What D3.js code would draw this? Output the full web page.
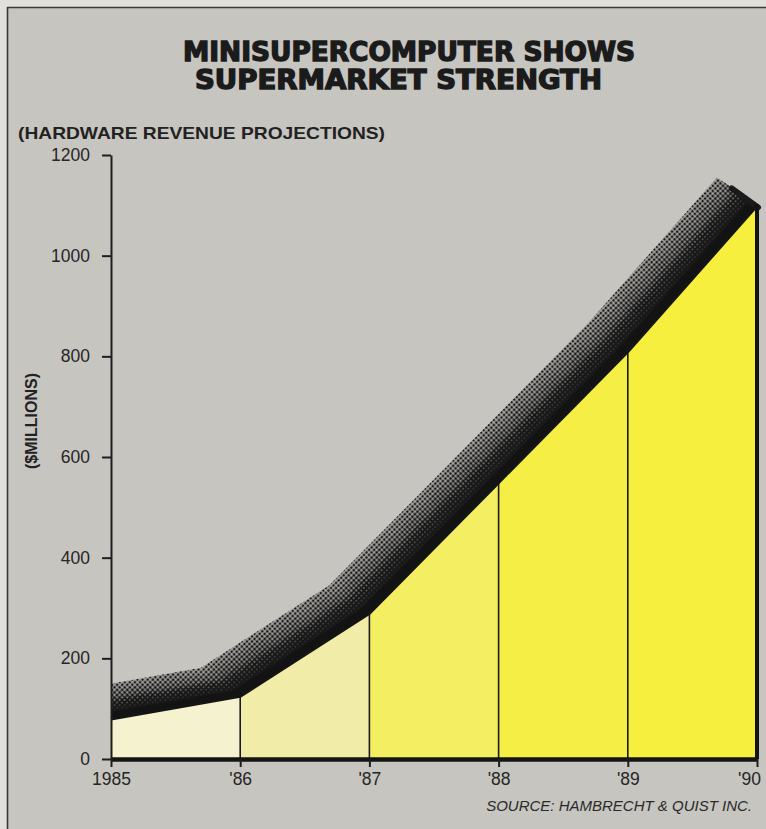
<!DOCTYPE html>
<html>
<head>
<meta charset="utf-8">
<script src="https://cdn.jsdelivr.net/npm/d3@7"></script>
<style>
  html, body { margin: 0; padding: 0; background: #e2e0db; }
  svg { display: block; }
</style>
</head>
<body>
<script>
// Hardware revenue projections, $ millions
const years = [1985, 1986, 1987, 1988, 1989, 1990];
const revenue = [80, 125, 290, 550, 810, 1100];
const yearLabels = ["1985", "'86", "'87", "'88", "'89", "'90"];
const yTicks = [0, 200, 400, 600, 800, 1000, 1200];
const bandFills = ["#f5f2cf", "#f1eca8", "#f4ee62", "#f5ee44", "#f6ef3e"];

const W = 766, H = 829;
const svg = d3.select("body").append("svg").attr("width", W).attr("height", H);
const defs = svg.append("defs");

// page and framed panel
svg.append("rect").attr("width", W).attr("height", H).attr("fill", "#e2e0db");
svg.append("rect").attr("x", 7).attr("y", 7).attr("width", W - 7).attr("height", H - 7).attr("fill", "#c7c5c0");
svg.append("line").attr("x1", 7.5).attr("x2", 7.5).attr("y1", 7).attr("y2", H).attr("stroke", "#3a3a3a").attr("stroke-width", 1.6);
svg.append("line").attr("x1", 7).attr("x2", W).attr("y1", 7.5).attr("y2", 7.5).attr("stroke", "#3a3a3a").attr("stroke-width", 1.6);

const x = d3.scaleLinear().domain([1985, 1990]).range([111, 757]);
const y = d3.scaleLinear().domain([0, 1200]).range([759, 155]);

const pts = years.map((yr, i) => [x(yr), y(revenue[i])]);
const line = d3.line();

// halftone screens of decreasing dot size
const levels = 12;
for (let j = 0; j < levels; j++) {
  const r = 2.2 - (j / (levels - 1)) * 1.0;
  const p = defs.append("pattern")
    .attr("id", "ht" + j)
    .attr("patternUnits", "userSpaceOnUse")
    .attr("width", 3.6).attr("height", 3.6)
    .attr("patternTransform", "rotate(45)");
  p.append("rect").attr("width", 3.6).attr("height", 3.6).attr("fill", "#a3a19d");
  p.append("circle").attr("cx", 1.8).attr("cy", 1.8).attr("r", r).attr("fill", "#181818");
}

defs.append("clipPath").attr("id", "plotClip")
  .append("rect").attr("x", x(1985) + 1).attr("y", 0).attr("width", W).attr("height", y(0));

// extruded ribbon above the curve
const extrude = [-39, -27];
const ribbon = svg.append("g").attr("clip-path", "url(#plotClip)");
const N = 44;
for (let k = N; k >= 0; k--) {
  const t = k / N;
  const shifted = pts.map(([px, py]) => [px + extrude[0] * t, py + extrude[1] * t]);
  let stroke;
  if (t < 0.17) stroke = "#141414";
  else {
    const j = Math.min(levels - 1, Math.round(((t - 0.17) / 0.83) * (levels - 1)));
    stroke = "url(#ht" + j + ")";
  }
  ribbon.append("path")
    .attr("d", line(shifted))
    .attr("fill", "none")
    .attr("stroke", stroke)
    .attr("stroke-width", 2.6)
    .attr("stroke-linejoin", "round");
}
// dark end face of the ribbon
const endPt = pts[pts.length - 1];
ribbon.append("path")
  .attr("d", line([[endPt[0] + 1, endPt[1] + 2], [endPt[0] + extrude[0] * 0.7 + 2, endPt[1] + extrude[1] * 0.7 + 2]]))
  .attr("stroke", "#1a1a1a").attr("stroke-width", 6).attr("stroke-linecap", "round");

// yellow bands between years
const area = d3.area().x(d => d[0]).y0(y(0)).y1(d => d[1]);
for (let i = 0; i < pts.length - 1; i++) {
  svg.append("path").attr("d", area([pts[i], pts[i + 1]])).attr("fill", bandFills[i]);
}

// year dividers
for (let i = 1; i < pts.length - 1; i++) {
  svg.append("line")
    .attr("x1", pts[i][0]).attr("x2", pts[i][0])
    .attr("y1", y(0)).attr("y2", pts[i][1])
    .attr("stroke", "#1a1a1a").attr("stroke-width", 1.6);
}

// curve outline and right edge
svg.append("path").attr("d", line(pts)).attr("fill", "none")
  .attr("stroke", "#141414").attr("stroke-width", 3.5).attr("stroke-linejoin", "round");
svg.append("line")
  .attr("x1", endPt[0]).attr("x2", endPt[0]).attr("y1", endPt[1] - 1).attr("y2", y(0))
  .attr("stroke", "#141414").attr("stroke-width", 4);

const labelFont = "'Liberation Sans', Arial, Helvetica, sans-serif";

// y axis
const yAxis = svg.append("g").attr("transform", `translate(${x(1985)},0)`)
  .call(d3.axisLeft(y).tickValues(yTicks).tickSize(9).tickSizeOuter(0).tickPadding(12).tickFormat(d3.format("d")));
yAxis.select(".domain").attr("stroke", "#1e1e1e").attr("stroke-width", 2);
yAxis.selectAll(".tick line").attr("stroke", "#1e1e1e").attr("stroke-width", 2);
yAxis.selectAll(".tick text").attr("font-family", labelFont).attr("font-size", 17.5).attr("fill", "#262626");

// x axis
const xAxis = svg.append("g").attr("transform", `translate(0,${y(0)})`)
  .call(d3.axisBottom(x).tickValues(years).tickSize(8).tickSizeOuter(0).tickPadding(6)
    .tickFormat((d, i) => yearLabels[i]));
xAxis.select(".domain").attr("stroke", "#141414").attr("stroke-width", 4.5);
xAxis.selectAll(".tick line").attr("stroke", "#1e1e1e").attr("stroke-width", 2);
xAxis.selectAll(".tick text").attr("font-family", labelFont).attr("font-size", 17.5).attr("fill", "#262626")
  .attr("dx", d => d === 1990 ? -8 : 0);

// titles
const titleFont = "'DejaVu Sans Condensed', 'DejaVu Sans', sans-serif";
[["MINISUPERCOMPUTER SHOWS", 183, 61, 452], ["SUPERMARKET STRENGTH", 195, 89, 407]].forEach(([txt, tx, ty, len]) => {
  svg.append("text").text(txt)
    .attr("x", tx).attr("y", ty)
    .attr("font-family", titleFont).attr("font-weight", 900).attr("font-size", 27)
    .attr("fill", "#1b1b1b").attr("stroke", "#1b1b1b").attr("stroke-width", 1.3)
    .attr("textLength", len).attr("lengthAdjust", "spacingAndGlyphs");
});

svg.append("text").text("(HARDWARE REVENUE PROJECTIONS)")
  .attr("x", 18).attr("y", 139)
  .attr("font-family", labelFont).attr("font-weight", 700).attr("font-size", 17)
  .attr("fill", "#222").attr("textLength", 367).attr("lengthAdjust", "spacingAndGlyphs");

svg.append("text").text("($MILLIONS)")
  .attr("transform", "translate(37,421) rotate(-90)")
  .attr("text-anchor", "middle")
  .attr("font-family", labelFont).attr("font-weight", 700).attr("font-size", 16)
  .attr("fill", "#222");

svg.append("text").text("SOURCE: HAMBRECHT & QUIST INC.")
  .attr("x", 752).attr("y", 811).attr("text-anchor", "end")
  .attr("font-family", labelFont).attr("font-style", "italic").attr("font-size", 15)
  .attr("fill", "#2a2a2a");
</script>
</body>
</html>
